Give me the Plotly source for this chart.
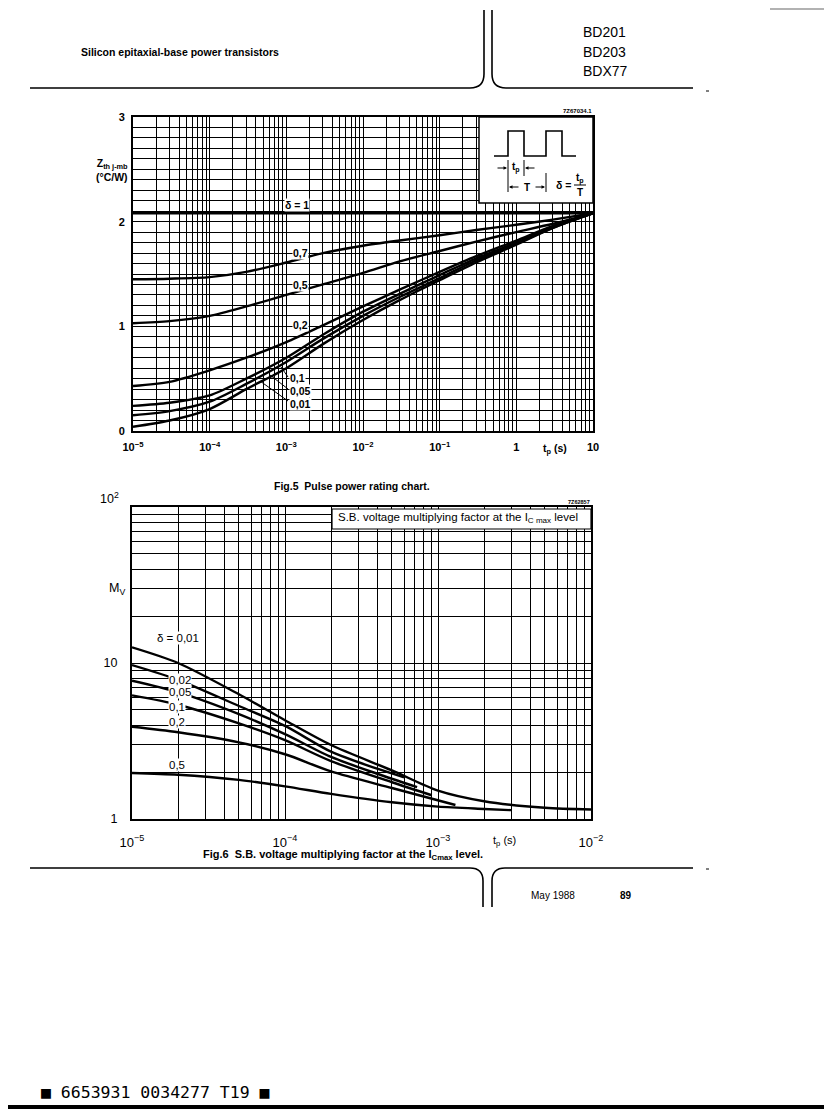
import numpy as np
import plotly.graph_objects as go

# the page body keeps its default 8 px margin, so the figure is drawn 8 px in
W, H = 816, 1102
OFF = 8


def fx(p):
    # page pixel -> paper (horizontal)
    return (p - OFF) / W


def fy(p):
    # page pixel -> paper (vertical, measured from top)
    return 1 - (p - OFF) / H


# ---- Fig.5 : Zth j-mb vs tp (s) ----
tp_z = [1e-5, 3e-5, 1e-4, 3e-4, 1e-3, 3e-3, 1e-2, 3e-2, 1e-1, 3e-1, 1, 3, 10]
tp_d1 = [1e-5, 10]
z_d1 = [2.08, 2.08]
z_d07 = [1.45, 1.455, 1.47, 1.52, 1.61, 1.70, 1.77, 1.82, 1.87, 1.92, 1.97, 2.02, 2.08]
z_d05 = [1.03, 1.05, 1.10, 1.19, 1.30, 1.40, 1.51, 1.62, 1.72, 1.81, 1.90, 1.98, 2.08]
z_d02 = [0.43, 0.47, 0.58, 0.70, 0.85, 1.01, 1.19, 1.35, 1.52, 1.67, 1.82, 1.96, 2.08]
z_d01 = [0.24, 0.27, 0.34, 0.50, 0.70, 0.92, 1.14, 1.31, 1.49, 1.65, 1.80, 1.95, 2.08]
z_d005 = [0.15, 0.19, 0.28, 0.45, 0.66, 0.88, 1.10, 1.28, 1.46, 1.63, 1.79, 1.94, 2.08]
z_d001 = [0.04, 0.10, 0.21, 0.40, 0.60, 0.83, 1.06, 1.25, 1.44, 1.61, 1.78, 1.94, 2.08]

# ---- Fig.6 : Mv vs tp (s) ----
tp_m001 = [1e-5, 2e-5, 5e-5, 1e-4, 2e-4, 5e-4, 1e-3, 2e-3, 5e-3, 1e-2]
m_d001 = [12.6, 10.0, 6.3, 4.3, 2.98, 2.05, 1.52, 1.30, 1.18, 1.15]
tp_m002 = [1e-5, 2e-5, 5e-5, 1e-4, 2e-4, 4e-4, 6e-4]
m_d002 = [9.7, 7.8, 5.3, 3.95, 2.7, 2.1, 1.85]
tp_m005 = [1e-5, 2e-5, 5e-5, 1e-4, 2e-4, 4e-4, 7.3e-4]
m_d005 = [7.7, 6.5, 4.7, 3.5, 2.5, 1.95, 1.6]
tp_m01 = [1e-5, 2e-5, 5e-5, 1e-4, 2e-4, 5e-4, 9.1e-4]
m_d01 = [6.2, 5.4, 4.1, 3.2, 2.35, 1.72, 1.42]
tp_m02 = [1e-5, 2e-5, 5e-5, 1e-4, 2e-4, 5e-4, 1.3e-3]
m_d02 = [3.9, 3.6, 3.1, 2.6, 2.02, 1.58, 1.23]
tp_m05 = [1e-5, 2e-5, 5e-5, 1e-4, 2e-4, 5e-4, 1e-3, 2e-3, 3e-3]
m_d05 = [1.97, 1.92, 1.78, 1.62, 1.45, 1.28, 1.20, 1.16, 1.14]

# tick labels
top_xticks = [1e-5, 1e-4, 1e-3, 1e-2, 1e-1, 1, 10]
top_xlabels = ["10<sup>−5</sup>", "10<sup>−4</sup>", "10<sup>−3</sup>", "10<sup>−2</sup>",
               "10<sup>−1</sup>", "1", "10"]
top_yticks = [0, 1, 2, 3]
bot_xticks = [1e-5, 1e-4, 1e-3, 1e-2]
bot_xlabels = ["10<sup>−5</sup>", "10<sup>−4</sup>", "10<sup>−3</sup>", "10<sup>−2</sup>"]
bot_yticks = [1, 10]
bot_ylabels = ["1", "10"]

# curve labels (text, page px x, page px y)
top_labels = [("δ = 1", 284, 205), ("0,7", 292, 253), ("0,5", 292, 285), ("0,2", 292, 325),
              ("0,1", 289, 378), ("0,05", 289, 391), ("0,01", 289, 404)]
bot_labels = [("δ = 0,01", 156, 638), ("0,02", 168, 680), ("0,05", 168, 692),
              ("0,1", 168, 707), ("0,2", 168, 722), ("0,5", 168, 765)]

SANS = "Liberation Sans, Arial, sans-serif"
NARROW = "Liberation Sans Narrow, Liberation Sans, Arial, sans-serif"

fig = go.Figure()

for xs, ys in [(tp_d1, z_d1), (tp_z, z_d07), (tp_z, z_d05), (tp_z, z_d02),
               (tp_z, z_d01), (tp_z, z_d005), (tp_z, z_d001)]:
    fig.add_trace(go.Scatter(x=xs, y=ys, mode="lines", xaxis="x", yaxis="y",
                             line=dict(color="black", width=2.4, shape="spline", smoothing=0.8),
                             showlegend=False, hoverinfo="skip"))

for xs, ys in [(tp_m001, m_d001), (tp_m002, m_d002), (tp_m005, m_d005),
               (tp_m01, m_d01), (tp_m02, m_d02), (tp_m05, m_d05)]:
    fig.add_trace(go.Scatter(x=xs, y=ys, mode="lines", xaxis="x2", yaxis="y2",
                             line=dict(color="black", width=2.4, shape="spline", smoothing=0.8),
                             showlegend=False, hoverinfo="skip"))

# minor log grid positions (2..9 in each decade)
minor_top = [m * 10.0 ** d for d in range(-5, 1) for m in range(2, 10)]
minor_botx = [m * 10.0 ** d for d in range(-5, -2) for m in range(2, 10)]
minor_boty = [m * 10.0 ** d for d in range(0, 2) for m in range(2, 10)]

grid = dict(showgrid=True, gridcolor="black", gridwidth=1.4, zeroline=False,
            showline=True, linecolor="black", linewidth=2, mirror=True,
            ticks="", automargin=False)
minor = dict(showgrid=True, gridcolor="black", gridwidth=1.1, ticks="")

fig.update_layout(
    width=W, height=H, margin=dict(l=0, r=0, t=0, b=0),
    paper_bgcolor="white", plot_bgcolor="white", showlegend=False,
    font=dict(family=SANS, color="black"),
    xaxis=dict(type="log", range=[-5, 1], domain=[fx(133), fx(593)], anchor="y",
               tickmode="array", tickvals=top_xticks, ticktext=top_xlabels,
               tickfont=dict(size=11, family=NARROW, weight="bold"), ticklabelstandoff=5,
               minor=dict(tickmode="array", tickvals=minor_top, **minor), **grid),
    yaxis=dict(range=[0, 3], domain=[fy(431), fy(117)], anchor="x",
               tickmode="array", tickvals=top_yticks,
               tickfont=dict(size=11, family=SANS, weight="bold"), ticklabelstandoff=4,
               minor=dict(dtick=0.1, tick0=0, **minor), **grid),
    xaxis2=dict(type="log", range=[-5, -2], domain=[fx(132), fx(591)], anchor="y2",
                tickmode="array", tickvals=bot_xticks, ticktext=bot_xlabels,
                tickfont=dict(size=13, family=SANS), ticklabelstandoff=10,
                minor=dict(tickmode="array", tickvals=minor_botx, **minor), **grid),
    yaxis2=dict(type="log", range=[0, 2], domain=[fy(819), fy(507)], anchor="x2",
                tickmode="array", tickvals=bot_yticks, ticktext=bot_ylabels,
                tickfont=dict(size=12.5, family=SANS), ticklabelstandoff=10,
                minor=dict(tickmode="array", tickvals=minor_boty, **minor), **grid),
)

shapes = []
ann = []


def line(x0, y0, x1, y1, w=1.2, color="black"):
    shapes.append(dict(type="line", xref="paper", yref="paper", x0=fx(x0), y0=fy(y0),
                       x1=fx(x1), y1=fy(y1), line=dict(color=color, width=w), layer="above"))


def text(s, x, y, size=10, anchor="left", family=SANS, weight="normal", bg=None, **kw):
    d = dict(text=s, x=fx(x), y=fy(y), xref="paper", yref="paper", showarrow=False,
             xanchor=anchor, yanchor="middle",
             font=dict(size=size, family=family, color="black", weight=weight), borderpad=0)
    if bg:
        d["bgcolor"] = bg
    d.update(kw)
    ann.append(d)


def arrow(x, y, dx):
    # arrow head at (x, y), tail dx px away horizontally
    ann.append(dict(text="", x=fx(x), y=fy(y), xref="paper", yref="paper", showarrow=True,
                    ax=dx, ay=0, arrowhead=2, arrowsize=0.7, arrowwidth=1, arrowcolor="black"))


def path(pts):
    return "M " + " L ".join(f"{fx(a):.5f},{fy(b):.5f}" for a, b in pts)


def curve(cmd):
    shapes.append(dict(type="path", xref="paper", yref="paper", layer="above",
                       path=cmd, line=dict(color="black", width=1.6)))


# page header
curve(f"M {fx(30)},{fy(88)} L {fx(470)},{fy(88)} Q {fx(484)},{fy(88)} {fx(484)},{fy(74)} L {fx(484)},{fy(10)}")
curve(f"M {fx(492)},{fy(10)} L {fx(492)},{fy(74)} Q {fx(492)},{fy(88)} {fx(506)},{fy(88)} L {fx(693)},{fy(88)}")
line(706, 91, 709, 91, w=1)
line(770, 9, 824, 9, w=1.5, color="#999999")
text("Silicon epitaxial-base power transistors", 80, 52, size=10.5, weight="bold")
for i, name in enumerate(["BD201", "BD203", "BDX77"]):
    text(name, 582, 32 + 19.5 * i, size=14)

# page footer
curve(f"M {fx(30)},{fy(868)} L {fx(470)},{fy(868)} Q {fx(483)},{fy(868)} {fx(483)},{fy(881)} L {fx(483)},{fy(907)}")
curve(f"M {fx(492)},{fy(907)} L {fx(492)},{fy(881)} Q {fx(492)},{fy(868)} {fx(505)},{fy(868)} L {fx(693)},{fy(868)}")
line(706, 869, 709, 869, w=1)
text("May 1988", 530, 895, size=10)
text("89", 619, 895, size=10, weight="bold")
text("■ 6653931 0034277 T19 ■", 40, 1092, size=16.5, family="DejaVu Sans Mono")
shapes.append(dict(type="rect", xref="paper", yref="paper", x0=0, x1=1, y0=fy(1109), y1=fy(1105),
                   fillcolor="black", line=dict(width=0), layer="above"))

# Fig.5 texts
text("7Z67034.1", 593, 111, size=6, anchor="right", weight="bold")
text("Z<sub>th j-mb</sub><br>(°C/W)", 129, 170, size=10.5, anchor="right", weight="bold", align="right")
text("t<sub>p</sub> (s)", 555, 449, size=10.5, anchor="center", weight="bold")
text("Fig.5  Pulse power rating chart.", 352, 486, size=10.5, anchor="center", weight="bold")
for s, x, y in top_labels:
    text(s, x, y, size=10.5, weight="bold", bg="white")
line(288, 377, 281, 367, w=1)
line(288, 389, 270, 375, w=1)
line(288, 401, 260, 381, w=1)

# inset box with pulse diagram
shapes.append(dict(type="rect", xref="paper", yref="paper", x0=fx(479), x1=fx(593), y0=fy(203), y1=fy(117),
                   fillcolor="white", line=dict(color="black", width=1.5), layer="above"))
pulse_x = [494, 508, 508, 524, 524, 546, 546, 562, 562, 576]
pulse_y = [156, 156, 131, 131, 156, 156, 131, 131, 156, 156]
shapes.append(dict(type="path", xref="paper", yref="paper", layer="above",
                   path=path(list(zip(pulse_x, pulse_y))), line=dict(color="black", width=1.6)))
line(508, 160, 508, 192, w=1)
line(524, 160, 524, 176, w=1)
line(546, 173, 546, 192, w=1)
arrow(507, 168, -11)
arrow(525, 168, 11)
arrow(509, 187, 11)
arrow(545, 187, -11)
text("t<sub>p</sub>", 516, 167, size=10, anchor="center", weight="bold")
text("T", 527, 187, size=10, anchor="center", weight="bold", bg="white")
text("δ =", 563, 185, size=10.5, anchor="center", weight="bold")
text("t<sub>p</sub>", 580, 178, size=10, anchor="center", weight="bold")
line(574, 185, 586, 185, w=1)
text("T", 580, 193, size=10, anchor="center", weight="bold")

# Fig.6 texts
text("7Z62857", 591, 502, size=5.5, anchor="right", weight="bold")
shapes.append(dict(type="rect", xref="paper", yref="paper", x0=fx(332), x1=fx(591), y0=fy(529), y1=fy(509),
                   fillcolor="white", line=dict(color="black", width=1.2), layer="above"))
text("S.B. voltage multiplying factor at the I<sub>C max</sub> level", 337, 518, size=11.5)
text("10<sup>2</sup>", 120, 498, size=12.5, anchor="right")
text("M<sub>V</sub>", 108, 589, size=12.5)
text("t<sub>p</sub> (s)", 505, 841, size=11, anchor="center")
text("Fig.6  S.B. voltage multiplying factor at the I<sub>Cmax</sub> level.", 202, 855, size=11, weight="bold")
for s, x, y in bot_labels:
    text(s, x, y, size=11.5, bg="white")

fig.update_layout(shapes=shapes, annotations=ann)
fig.write_html("out.html")
